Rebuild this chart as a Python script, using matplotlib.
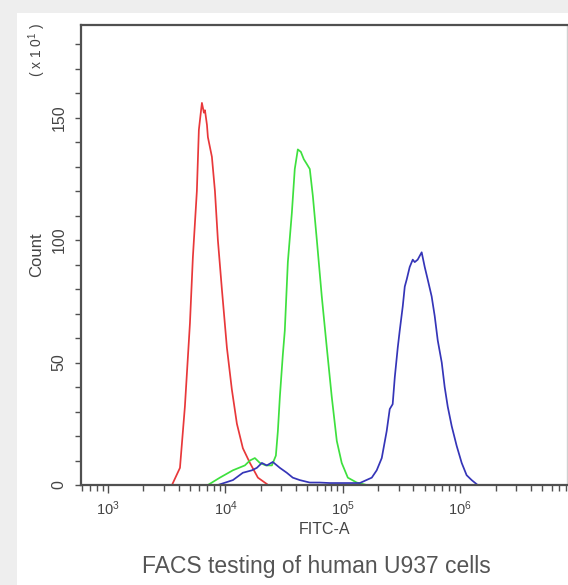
###############################################################################
### FACS histogram: FITC-A counts for human U937 cells
###############################################################################

import matplotlib
matplotlib.use('Agg')
import matplotlib.pyplot as plt
from matplotlib.patches import Rectangle
from matplotlib.ticker import LogLocator, MultipleLocator, LogFormatterSciNotation
import numpy as np

#------------------------------------------------------------------------------
### Data (x as log10 of FITC-A, y as count / 10)

red_logx = [3.485, 3.545, 3.613, 3.655, 3.698, 3.723, 3.757, 3.774, 3.800,
            3.817, 3.826, 3.843, 3.851, 3.885, 3.911, 3.936, 3.970, 4.013,
            4.055, 4.098, 4.149, 4.209, 4.277, 4.353]
red_count = [0, 0, 7, 32, 66, 93, 120, 145, 156,
             152, 153, 147, 142, 134, 120, 100, 80, 56,
             39, 25, 15, 9, 3, 0.4]

green_logx = [3.851, 3.953, 4.064, 4.166, 4.209, 4.251, 4.294, 4.345, 4.396,
              4.430, 4.447, 4.464, 4.489, 4.506, 4.532, 4.566, 4.591, 4.617,
              4.643, 4.668, 4.694, 4.719, 4.745, 4.779, 4.821, 4.864, 4.906,
              4.949, 4.991, 5.043, 5.119, 5.204]
green_count = [0, 3, 6, 8, 10, 11, 9, 8, 8,
               12, 22, 36, 53, 63, 91, 111, 129, 137,
               136, 133, 131, 129, 118, 100, 77, 56, 36,
               18, 9, 3, 1, 0]

blue_logx = [3.936, 4.064, 4.149, 4.226, 4.268, 4.311, 4.353, 4.404, 4.464,
             4.523, 4.574, 4.634, 4.719, 4.804, 4.889, 5.017, 5.145, 5.247,
             5.289, 5.332, 5.374, 5.400, 5.425, 5.443, 5.468, 5.485, 5.511,
             5.528, 5.545, 5.570, 5.596, 5.613, 5.638, 5.672, 5.698, 5.723,
             5.757, 5.783, 5.809, 5.843, 5.868, 5.894, 5.928, 5.970, 6.013,
             6.055, 6.098, 6.149]
blue_count = [0, 2, 5, 6, 7, 9, 8, 9.4, 7,
              5, 3, 2, 1, 1, 0.8, 0.8, 0.8, 3,
              6, 11, 22, 31, 33, 44, 56, 63, 73,
              81, 84, 89, 92, 91, 92, 95, 89, 84,
              77, 69, 59, 50, 40, 32, 24, 16, 9,
              4, 2, 0]

y_major_ticks = [0, 50, 100, 150]

#------------------------------------------------------------------------------
### Styling

BG_COLOR = '#eeeeee'
TEXT_COLOR = '#444444'
SPINE_COLOR = '#505050'
RED = '#e8383a'
GREEN = '#3ee03e'
BLUE = '#3535b8'

plt.rcParams['font.family'] = ['Liberation Sans', 'DejaVu Sans']
plt.rcParams['mathtext.fontset'] = 'custom'
plt.rcParams['mathtext.rm'] = 'Liberation Sans'
plt.rcParams['mathtext.it'] = 'Liberation Sans'

fig = plt.figure(figsize=(5.68, 5.85), dpi=100, facecolor=BG_COLOR)

# White card behind the plot
fig.patches.append(Rectangle((17 / 568, 0), 1, 1 - 13 / 585,
                             transform=fig.transFigure, facecolor='white',
                             edgecolor='none', zorder=-5))

ax = fig.add_axes([81 / 568, 1 - 485 / 585, (567 - 81) / 568, 460 / 585])
ax.set_facecolor('white')

for logx, count, col in [(red_logx, red_count, RED),
                         (green_logx, green_count, GREEN),
                         (blue_logx, blue_count, BLUE)]:
    ax.plot(10 ** np.array(logx), count, color=col, lw=1.25)

ax.set_xscale('log')
ax.set_xlim(10 ** 2.77, 10 ** 6.91)
ax.set_ylim(0, 187.8)

ax.xaxis.set_major_locator(LogLocator(base=10, numticks=10))
ax.xaxis.set_minor_locator(LogLocator(base=10, subs=np.arange(2, 10), numticks=20))
ax.xaxis.set_major_formatter(LogFormatterSciNotation())
ax.yaxis.set_major_locator(plt.FixedLocator(y_major_ticks))
ax.yaxis.set_minor_locator(MultipleLocator(10))

ax.tick_params(axis='x', which='major', direction='out', length=5.5, width=1,
               color=SPINE_COLOR, labelsize=10.5, labelcolor=TEXT_COLOR, pad=5)
ax.tick_params(axis='x', which='minor', direction='out', length=4.5, width=1,
               color=SPINE_COLOR)
ax.tick_params(axis='y', which='both', direction='out', length=4.5, width=1,
               color=SPINE_COLOR, labelsize=11.5, labelcolor=TEXT_COLOR, pad=6)
for lab in ax.get_yticklabels():
    lab.set_rotation(90)
    lab.set_va('center')

for side in ['left', 'bottom', 'top']:
    ax.spines[side].set_color(SPINE_COLOR)
    ax.spines[side].set_linewidth(1.6)
ax.spines['right'].set_color('#d0d0d0')
ax.spines['right'].set_linewidth(1)

# Axis texts
fig.text(37 / 568, 1 - 50 / 585, '( x 1 0$^{1}$ )', rotation=90, ha='center',
         va='center', fontsize=10, color=TEXT_COLOR)
fig.text(37 / 568, 1 - 255 / 585, 'Count', rotation=90, ha='center',
         va='center', fontsize=12, color=TEXT_COLOR)
fig.text(325 / 568, 1 - 530 / 585, 'FITC-A', ha='center', va='center',
         fontsize=11.5, color=TEXT_COLOR)
fig.text(316 / 568, 1 - 567 / 585, 'FACS testing of human U937 cells',
         ha='center', va='center', fontsize=16.5, color='#555555')

plt.savefig('out.png', dpi=100, facecolor=BG_COLOR)
plt.close()
